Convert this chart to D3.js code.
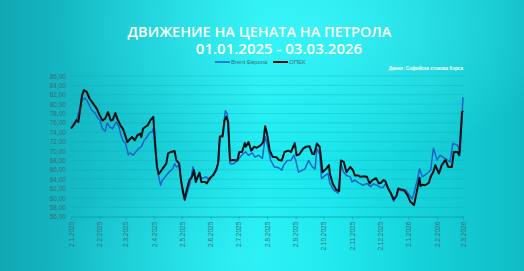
<!DOCTYPE html>
<html>
<head>
<meta charset="utf-8">
<script src="https://cdn.jsdelivr.net/npm/d3@7"></script>
<style>
  html, body { margin: 0; padding: 0; background: #14b4bd; }
  svg { display: block; }
</style>
</head>
<body>
<div id="chart"></div>
<script>
// Brent Европа, USD / барел
const brentData = [
  ["2025-01-02", 74.8], ["2025-01-08", 76.6], ["2025-01-12", 79.4], ["2025-01-14", 80.9],
  ["2025-01-17", 81.3], ["2025-01-20", 80.5], ["2025-01-24", 78.8], ["2025-01-28", 78.1],
  ["2025-01-31", 77.0], ["2025-02-02", 76.6], ["2025-02-05", 74.8], ["2025-02-08", 74.2],
  ["2025-02-10", 76.0], ["2025-02-13", 75.1], ["2025-02-16", 74.8], ["2025-02-20", 76.2],
  ["2025-02-23", 75.1], ["2025-02-25", 73.4], ["2025-02-27", 72.3], ["2025-03-02", 71.6],
  ["2025-03-05", 69.2], ["2025-03-07", 69.6], ["2025-03-10", 69.1], ["2025-03-13", 69.8],
  ["2025-03-16", 70.5], ["2025-03-19", 70.9], ["2025-03-22", 72.2], ["2025-03-25", 73.0],
  ["2025-03-28", 73.9], ["2025-03-31", 74.1], ["2025-04-01", 74.8], ["2025-04-03", 70.2],
  ["2025-04-06", 65.2], ["2025-04-09", 62.7], ["2025-04-11", 63.8], ["2025-04-15", 64.8],
  ["2025-04-18", 65.5], ["2025-04-22", 66.2], ["2025-04-24", 67.3], ["2025-04-26", 66.6],
  ["2025-04-29", 66.9], ["2025-05-01", 63.8], ["2025-05-04", 61.1], ["2025-05-06", 60.2],
  ["2025-05-09", 62.0], ["2025-05-11", 63.4], ["2025-05-14", 66.6], ["2025-05-17", 64.1],
  ["2025-05-21", 65.2], ["2025-05-23", 64.1], ["2025-05-28", 64.5], ["2025-06-01", 63.8],
  ["2025-06-05", 65.2], ["2025-06-08", 66.2], ["2025-06-11", 68.0], ["2025-06-12", 72.8],
  ["2025-06-15", 73.7], ["2025-06-18", 78.6], ["2025-06-20", 77.9], ["2025-06-23", 67.3],
  ["2025-06-27", 67.3], ["2025-07-01", 68.0], ["2025-07-04", 68.7], ["2025-07-07", 69.4],
  ["2025-07-10", 69.8], ["2025-07-13", 69.1], ["2025-07-17", 69.6], ["2025-07-20", 68.7],
  ["2025-07-24", 69.1], ["2025-07-28", 68.4], ["2025-07-31", 73.1], ["2025-08-03", 70.9],
  ["2025-08-06", 68.0], ["2025-08-10", 66.6], ["2025-08-14", 66.5], ["2025-08-18", 65.9],
  ["2025-08-20", 67.0], ["2025-08-24", 68.0], ["2025-08-28", 68.0], ["2025-08-31", 69.1],
  ["2025-09-02", 68.1], ["2025-09-05", 65.5], ["2025-09-09", 65.9], ["2025-09-12", 66.2],
  ["2025-09-16", 68.0], ["2025-09-20", 66.6], ["2025-09-23", 66.2], ["2025-09-25", 70.5],
  ["2025-09-28", 69.4], ["2025-09-30", 64.1], ["2025-10-04", 64.8], ["2025-10-07", 65.2],
  ["2025-10-09", 63.1], ["2025-10-13", 61.7], ["2025-10-18", 61.0], ["2025-10-21", 67.3],
  ["2025-10-24", 65.5], ["2025-10-27", 64.8], ["2025-10-31", 64.5], ["2025-11-02", 63.4],
  ["2025-11-05", 63.8], ["2025-11-10", 63.1], ["2025-11-14", 62.7], ["2025-11-18", 63.1],
  ["2025-11-22", 62.4], ["2025-11-25", 63.0], ["2025-11-29", 62.7], ["2025-12-03", 62.2],
  ["2025-12-06", 62.3], ["2025-12-08", 63.0], ["2025-12-11", 62.3], ["2025-12-14", 60.8],
  ["2025-12-17", 59.3], ["2025-12-20", 60.5], ["2025-12-22", 61.8], ["2025-12-26", 61.5],
  ["2025-12-30", 61.7], ["2026-01-04", 60.3], ["2026-01-06", 59.8], ["2026-01-08", 61.0],
  ["2026-01-12", 64.2], ["2026-01-14", 66.3], ["2026-01-17", 64.5], ["2026-01-22", 65.2],
  ["2026-01-26", 65.9], ["2026-01-29", 70.6], ["2026-02-02", 68.1], ["2026-02-05", 69.1],
  ["2026-02-11", 68.4], ["2026-02-16", 67.7], ["2026-02-19", 71.6], ["2026-02-24", 71.3],
  ["2026-02-27", 69.8], ["2026-03-02", 81.5]
];

// ОПЕК кошница
const opecData = [
  ["2025-01-02", 74.8], ["2025-01-05", 75.6], ["2025-01-08", 76.6], ["2025-01-10", 76.2],
  ["2025-01-13", 80.5], ["2025-01-14", 81.9], ["2025-01-16", 83.0], ["2025-01-19", 82.6],
  ["2025-01-22", 81.2], ["2025-01-26", 80.1], ["2025-01-30", 79.0], ["2025-02-02", 77.6],
  ["2025-02-05", 76.5], ["2025-02-08", 76.9], ["2025-02-11", 78.3], ["2025-02-14", 76.5],
  ["2025-02-16", 76.6], ["2025-02-19", 78.1], ["2025-02-21", 76.9], ["2025-02-25", 75.3],
  ["2025-02-27", 74.8], ["2025-03-01", 73.7], ["2025-03-04", 71.9], ["2025-03-06", 72.4],
  ["2025-03-09", 73.0], ["2025-03-12", 72.3], ["2025-03-15", 73.4], ["2025-03-18", 73.7],
  ["2025-03-19", 73.0], ["2025-03-21", 74.8], ["2025-03-26", 75.5], ["2025-03-29", 76.6],
  ["2025-04-01", 77.3], ["2025-04-03", 71.6], ["2025-04-05", 66.6], ["2025-04-07", 65.1],
  ["2025-04-11", 66.2], ["2025-04-15", 67.3], ["2025-04-17", 69.5], ["2025-04-20", 69.8],
  ["2025-04-24", 70.0], ["2025-04-26", 68.0], ["2025-04-29", 67.3], ["2025-05-01", 63.8],
  ["2025-05-03", 61.3], ["2025-05-05", 59.6], ["2025-05-07", 61.6], ["2025-05-10", 63.8],
  ["2025-05-13", 64.5], ["2025-05-15", 65.9], ["2025-05-17", 63.4], ["2025-05-21", 65.4],
  ["2025-05-23", 63.4], ["2025-05-27", 63.4], ["2025-05-29", 63.1], ["2025-06-01", 64.2],
  ["2025-06-05", 64.9], ["2025-06-08", 65.9], ["2025-06-10", 67.3], ["2025-06-12", 73.1],
  ["2025-06-15", 73.1], ["2025-06-17", 76.5], ["2025-06-19", 77.3], ["2025-06-21", 76.2],
  ["2025-06-23", 68.0], ["2025-06-27", 68.1], ["2025-07-01", 68.0], ["2025-07-03", 69.8],
  ["2025-07-06", 69.8], ["2025-07-09", 71.7], ["2025-07-10", 70.9], ["2025-07-13", 71.9],
  ["2025-07-16", 70.1], ["2025-07-19", 70.9], ["2025-07-22", 70.7], ["2025-07-26", 71.2],
  ["2025-07-29", 71.9], ["2025-07-31", 75.3], ["2025-08-02", 73.7], ["2025-08-05", 70.1],
  ["2025-08-08", 68.8], ["2025-08-12", 68.7], ["2025-08-15", 68.1], ["2025-08-18", 68.0],
  ["2025-08-21", 69.8], ["2025-08-25", 70.1], ["2025-08-28", 69.8], ["2025-09-01", 71.7],
  ["2025-09-03", 69.1], ["2025-09-06", 69.3], ["2025-09-10", 70.5], ["2025-09-13", 70.9],
  ["2025-09-17", 71.0], ["2025-09-20", 69.4], ["2025-09-22", 69.3], ["2025-09-25", 71.6],
  ["2025-09-28", 70.9], ["2025-09-30", 67.3], ["2025-10-01", 65.5], ["2025-10-05", 66.2],
  ["2025-10-08", 67.0], ["2025-10-09", 65.2], ["2025-10-12", 63.1], ["2025-10-16", 61.7],
  ["2025-10-19", 61.5], ["2025-10-21", 68.0], ["2025-10-24", 67.7], ["2025-10-27", 65.5],
  ["2025-10-31", 66.6], ["2025-11-03", 65.9], ["2025-11-05", 64.8], ["2025-11-09", 64.8],
  ["2025-11-11", 64.5], ["2025-11-14", 64.6], ["2025-11-18", 64.5], ["2025-11-21", 63.1],
  ["2025-11-24", 63.8], ["2025-11-28", 64.2], ["2025-12-01", 63.1], ["2025-12-03", 63.2],
  ["2025-12-06", 63.8], ["2025-12-08", 63.6], ["2025-12-11", 62.0], ["2025-12-14", 61.0],
  ["2025-12-17", 59.7], ["2025-12-20", 60.4], ["2025-12-22", 62.0], ["2025-12-25", 61.8],
  ["2025-12-28", 61.7], ["2026-01-01", 60.6], ["2026-01-04", 59.2], ["2026-01-08", 58.5],
  ["2026-01-11", 61.3], ["2026-01-14", 64.3], ["2026-01-15", 62.5], ["2026-01-17", 62.8],
  ["2026-01-20", 62.7], ["2026-01-24", 63.2], ["2026-01-26", 64.5], ["2026-01-29", 65.6],
  ["2026-01-31", 67.0], ["2026-02-04", 65.2], ["2026-02-07", 67.0], ["2026-02-11", 68.1],
  ["2026-02-14", 66.6], ["2026-02-18", 66.6], ["2026-02-20", 69.8], ["2026-02-24", 69.8],
  ["2026-02-26", 69.1], ["2026-03-01", 78.3], ["2026-03-02", 78.6]
];

const yTicks = [56, 58, 60, 62, 64, 66, 68, 70, 72, 74, 76, 78, 80, 82, 84, 86];
const xTickDates = [
  "2025-01-02", "2025-02-02", "2025-03-02", "2025-04-02", "2025-05-02", "2025-06-02",
  "2025-07-02", "2025-08-02", "2025-09-02", "2025-10-02", "2025-11-02", "2025-12-02",
  "2026-01-02", "2026-02-02", "2026-03-02"
];
const seriesNames = ["Brent Европа", "ОПЕК"];

const W = 524, H = 271;
let margin = { top: 76, left: 71, right: 61, bottom: 54.3 };
let width = W - margin.left - margin.right;
let height = H - margin.top - margin.bottom;

const parse = d3.timeParse("%Y-%m-%d");
const fmtX = d3.timeFormat("%-d.%-m.%Y");
const fmtY = v => d3.format(".2f")(v).replace(".", ",");

let svg = d3.select("#chart")
  .append("svg")
  .attr("width", W)
  .attr("height", H);

// background gradients
const defs = svg.append("defs");
const bg = defs.append("linearGradient").attr("id", "bg").attr("x1", 0).attr("x2", 1).attr("y1", 0).attr("y2", 0);
bg.append("stop").attr("offset", "0%").attr("stop-color", "#10a8b3");
bg.append("stop").attr("offset", "30%").attr("stop-color", "#19cdd6");
bg.append("stop").attr("offset", "50%").attr("stop-color", "#20ecf1");
bg.append("stop").attr("offset", "62%").attr("stop-color", "#1ae6ec");
bg.append("stop").attr("offset", "100%").attr("stop-color", "#0fbcc5");

const glow = defs.append("radialGradient").attr("id", "glow")
  .attr("cx", 0.6).attr("cy", 0.1).attr("r", 0.5);
glow.append("stop").attr("offset", "0%").attr("stop-color", "#4ffcff").attr("stop-opacity", 0.55);
glow.append("stop").attr("offset", "100%").attr("stop-color", "#4ffcff").attr("stop-opacity", 0);

const glow2 = defs.append("radialGradient").attr("id", "glow2")
  .attr("cx", 0.45).attr("cy", 0.95).attr("r", 0.35);
glow2.append("stop").attr("offset", "0%").attr("stop-color", "#3ffaff").attr("stop-opacity", 0.45);
glow2.append("stop").attr("offset", "100%").attr("stop-color", "#3ffaff").attr("stop-opacity", 0);

svg.append("rect").attr("width", W).attr("height", H).attr("fill", "url(#bg)");
svg.append("rect").attr("width", W).attr("height", H).attr("fill", "url(#glow)");
svg.append("rect").attr("width", W).attr("height", H).attr("fill", "url(#glow2)");

let g = svg.append("g")
  .attr("transform", `translate(${margin.left},${margin.top})`);

// scales
const xScale = d3.scaleTime()
  .domain([parse("2025-01-02"), parse("2026-03-02")])
  .range([0, width]);

const yScale = d3.scaleLinear()
  .domain([56, 86])
  .range([height, 0]);

// horizontal gridlines
g.append("g")
  .selectAll("line")
  .data(yTicks)
  .enter()
  .append("line")
  .attr("x1", 0)
  .attr("x2", width + 1)
  .attr("y1", d => yScale(d))
  .attr("y2", d => yScale(d))
  .attr("stroke", "#0a9fae")
  .attr("stroke-opacity", 0.4)
  .attr("stroke-width", 0.7);

// y axis
const yAxis = d3.axisLeft(yScale).tickValues(yTicks).tickFormat(fmtY).tickSize(0).tickPadding(5);
g.append("g")
  .attr("class", "y-axis")
  .call(yAxis)
  .call(s => s.select(".domain").remove())
  .selectAll("text")
  .attr("fill", "#3a6d7a")
  .style("font-family", "'Liberation Sans', Arial, sans-serif")
  .style("font-size", "6.5px");

// x axis
const xAxis = d3.axisBottom(xScale)
  .tickValues(xTickDates.map(parse))
  .tickFormat(fmtX)
  .tickSize(3);
let xg = g.append("g")
  .attr("class", "x-axis")
  .attr("transform", `translate(0,${height})`)
  .call(xAxis);
xg.select(".domain").attr("stroke", "#0a9fae").attr("stroke-opacity", 0.6);
xg.selectAll(".tick line").attr("stroke", "#0a9fae").attr("stroke-opacity", 0.6);
xg.selectAll("text")
  .attr("transform", "rotate(-90)")
  .attr("text-anchor", "end")
  .attr("x", -5)
  .attr("y", 0)
  .attr("dy", "0.35em")
  .attr("fill", "#3a6d7a")
  .style("font-family", "'Liberation Sans', Arial, sans-serif")
  .style("font-size", "6.5px");

// lines
const line = d3.line()
  .x(d => xScale(parse(d[0])))
  .y(d => yScale(d[1]));

g.append("path")
  .datum(brentData)
  .attr("fill", "none")
  .attr("stroke", "#1d63c6")
  .attr("stroke-width", 1.5)
  .attr("stroke-linejoin", "round")
  .attr("d", line);

g.append("path")
  .datum(opecData)
  .attr("fill", "none")
  .attr("stroke", "#0a0f14")
  .attr("stroke-width", 2)
  .attr("stroke-linejoin", "round")
  .attr("d", line);

// title
svg.append("text")
  .attr("x", 259.5)
  .attr("y", 36.5)
  .attr("text-anchor", "middle")
  .attr("fill", "#ffffff")
  .style("font-family", "'Open Sans', sans-serif")
  .style("font-weight", 600)
  .style("font-size", "14.5px")
  .text("ДВИЖЕНИЕ НА ЦЕНАТА НА ПЕТРОЛА");

svg.append("text")
  .attr("x", 279)
  .attr("y", 54.3)
  .attr("text-anchor", "middle")
  .attr("fill", "#ffffff")
  .style("font-family", "'Open Sans', sans-serif")
  .style("font-weight", 600)
  .style("font-size", "15px")
  .text("01.01.2025 - 03.03.2026");

// legend
const legendColors = ["#1d63c6", "#0a0f14"];
const legendX = [215, 273];
let legend = svg.append("g").attr("class", "legend");
seriesNames.forEach((name, i) => {
  legend.append("line")
    .attr("x1", legendX[i]).attr("x2", legendX[i] + 15)
    .attr("y1", 62).attr("y2", 62)
    .attr("stroke", legendColors[i])
    .attr("stroke-width", i === 0 ? 1.5 : 2);
  legend.append("text")
    .attr("x", legendX[i] + 16)
    .attr("y", 64)
    .attr("fill", "#3a6d7a")
    .style("font-family", "'Liberation Sans', Arial, sans-serif")
    .style("font-size", "6px")
    .text(name);
});

// source note
svg.append("text")
  .attr("x", 463)
  .attr("y", 69.5)
  .attr("text-anchor", "end")
  .attr("fill", "#ffffff")
  .style("font-family", "'Liberation Sans', Arial, sans-serif")
  .style("font-weight", "bold")
  .style("font-size", "4.6px")
  .text("Данни: Софийска стокова борса");
</script>
</body>
</html>
